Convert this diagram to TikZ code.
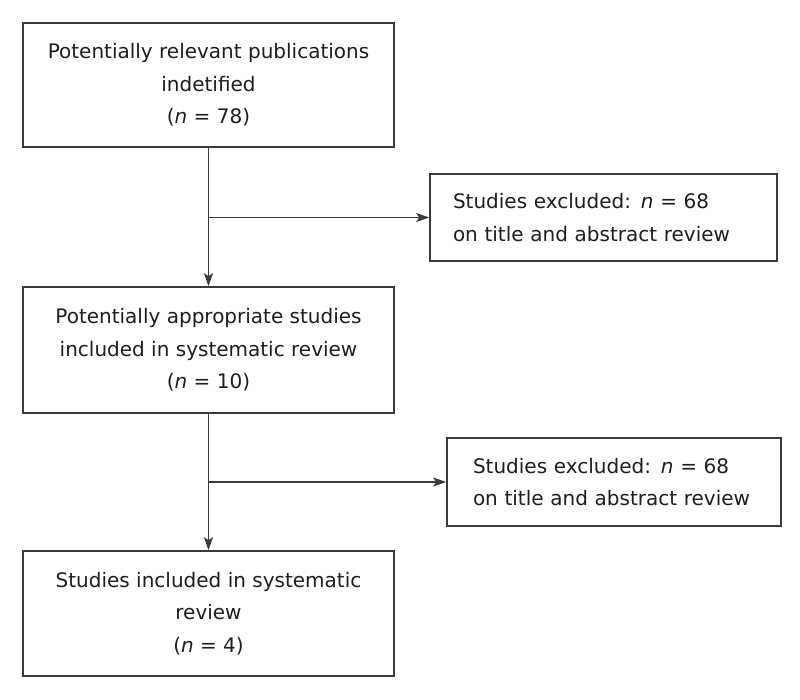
\documentclass[tikz,border=0pt]{standalone}
\usepackage{fontspec}
\setmainfont{DejaVu Sans}
\usetikzlibrary{arrows.meta}
\definecolor{ln}{HTML}{3A3A3A}
\definecolor{tx}{HTML}{1E1E1E}
\begin{document}
\begin{tikzpicture}[x=1pt,y=-1pt,
  box/.style={draw=ln,line width=1.6pt,inner sep=0pt,text=tx,font=\fontsize{20}{32.5}\selectfont},
  cbox/.style={box,align=center},
  lbox/.style={box,align=left},
  conn/.style={draw=ln,line width=1.6pt},
  arr/.style={conn,-{Stealth[length=13pt,width=9pt,inset=3pt]}}]
\useasboundingbox (0,0) rectangle (800,700);
\node[cbox,minimum width=371pt,minimum height=124pt] (b1) at (208.5,85) {Potentially relevant publications\\indetified\\(\textit{n} = 78)};
\node[lbox,minimum height=87pt,text width=347pt-46pt,inner xsep=23pt] (e1) at (603.5,217.5) {Studies excluded: \textit{n} = 68\\on title and abstract review};
\node[cbox,minimum width=371pt,minimum height=126pt] (b2) at (208.5,350) {Potentially appropriate studies\\included in systematic review\\(\textit{n} = 10)};
\node[lbox,minimum height=88pt,text width=334pt-52pt,inner xsep=26pt] (e2) at (614,482) {Studies excluded: \textit{n} = 68\\on title and abstract review};
\node[cbox,minimum width=371pt,minimum height=125pt] (b3) at (208.5,613.5) {Studies included in systematic\\review\\(\textit{n} = 4)};
\coordinate (j1) at (b1.south |- e1.west);
\coordinate (j2) at (b2.south |- e2.west);
\draw[arr] (b1.south) -- (b2.north);
\draw[arr] (j1) -- (e1.west);
\draw[arr] (b2.south) -- (b3.north);
\draw[arr] (j2) -- (e2.west);
\end{tikzpicture}
\end{document}
